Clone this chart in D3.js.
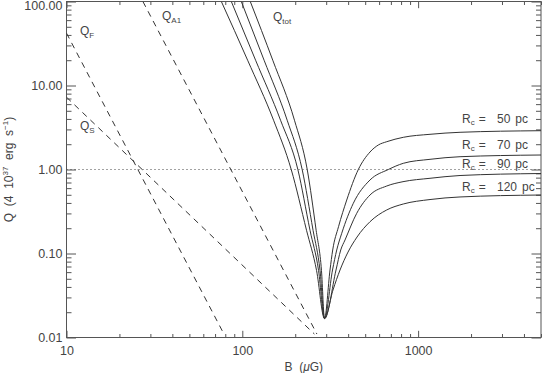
<!DOCTYPE html>
<meta charset="utf-8">
<style>
body { margin: 0; background: #fff; }
svg { font-family: "Liberation Sans", Arial, sans-serif; }
.curve { fill: none; stroke: #333; stroke-width: 1px; }
.dash { fill: none; stroke: #333; stroke-width: 1px; stroke-dasharray: 6,5; }
.dot { fill: none; stroke: #444; stroke-width: 1px; stroke-dasharray: 1,3; }
.tick line { stroke: #555; }
.tick text { fill: #444; font-size: 12.5px; }
.lbl { fill: #444; font-size: 12px; white-space: pre; }
</style>
<body>
<script src="https://d3js.org/d3.v7.min.js"></script>
<script>

// power-law components (B in microGauss, Q)
var qF  = [[10, 42], [78.6, 0.011]];
var qS  = [[10, 7.26], [257, 0.011]];
var qA1 = [[27.2, 100], [265.6, 0.011]];

// total Q for each core radius
var qTot50 = [[111, 100], [149, 20], [198, 3.86], [234, 1.0], [263, 0.189], [282, 0.063],
  [293.5, 0.0168], [315.4, 0.0636], [326.7, 0.110], [352.6, 0.2085], [392.6, 0.433],
  [457, 1.0], [532.5, 1.615], [593.6, 1.957], [663, 2.143], [823.7, 2.417],
  [1168.5, 2.624], [1731.5, 2.773], [5000, 2.897]];
var qTot70 = [[98.7, 100], [133, 20], [180, 3.86], [219, 1.0], [252.6, 0.189], [276.7, 0.063],
  [293.5, 0.0168], [325.9, 0.0636], [344.4, 0.110], [367.7, 0.174], [428, 0.396],
  [532.5, 0.750], [677, 1.0], [823.7, 1.185], [1168.5, 1.322], [1731.5, 1.420], [5000, 1.488]];
var qTot90 = [[86.6, 100], [119, 20], [165, 3.86], [207, 1.0], [242.7, 0.189], [271.4, 0.063],
  [293.5, 0.0168], [341.2, 0.0636], [362.9, 0.110], [383.9, 0.1448], [447.5, 0.301],
  [532.5, 0.497], [663, 0.636], [820.5, 0.716], [1168.5, 0.786], [1731.5, 0.848], [5000, 0.896]];
var qTot120 = [[76, 100], [107.2, 20], [150.6, 3.86], [189.8, 1.0], [231.9, 0.189], [264.4, 0.063],
  [293.5, 0.0168], [328, 0.0368], [359.6, 0.0636], [399.3, 0.104], [449.3, 0.157],
  [532.5, 0.239], [663, 0.330], [823.7, 0.3885], [1168.5, 0.439], [1731.5, 0.471], [5000, 0.497]];

var radii = ["50", "70", "90", "120"];

var xMajor = [10, 100, 1000];
var xMinor = [20, 30, 40, 50, 60, 70, 80, 90, 200, 300, 400, 500, 600, 700, 800, 900, 2000, 3000, 4000, 5000];
var yMajor = [0.01, 0.1, 1, 10, 100];
var yMinor = [];
[0.01, 0.1, 1, 10].forEach(function(d) {
  for (var k = 2; k <= 9; k++) yMinor.push(d * k);
});

var margin = {top: 1.5, right: 1, bottom: 35.5, left: 66.5},
    width = 542 - margin.left - margin.right,
    height = 373 - margin.top - margin.bottom;

var x = d3.scaleLog().domain([10, 5000]).range([0, width]);
var y = d3.scaleLog().domain([0.01, 100]).range([height, 0]);

var svg = d3.select("body").append("svg")
    .attr("width", 542)
    .attr("height", 373)
  .append("g")
    .attr("transform", "translate(" + margin.left + "," + margin.top + ")");

svg.append("clipPath").attr("id", "clip")
  .append("rect").attr("width", width).attr("height", height);

// axes: IDL style box with inward ticks
function addAxis(axisFn, vals, size, fmt, tr, pad) {
  var g = svg.append("g")
      .attr("transform", tr)
      .call(axisFn.tickValues(vals).tickSize(size).tickSizeOuter(0)
        .tickFormat(fmt).tickPadding(pad || 4));
  g.select(".domain").remove();
  return g;
}
var none = function() { return ""; };

var yAxisG = addAxis(d3.axisLeft(y), yMajor, -9.5, d3.format(".2f"), "translate(0,0)", 4);
// keep the top label inside the picture
yAxisG.selectAll(".tick text").filter(function(d) { return d === 100; }).attr("dy", "0.6em");
addAxis(d3.axisLeft(y), yMinor, -5, none, "translate(0,0)");
addAxis(d3.axisRight(y), yMajor, -9.5, none, "translate(" + width + ",0)");
addAxis(d3.axisRight(y), yMinor, -5, none, "translate(" + width + ",0)");
addAxis(d3.axisBottom(x), xMajor, -6.7, d3.format("d"), "translate(0," + height + ")", 9);
addAxis(d3.axisBottom(x), xMinor, -3.5, none, "translate(0," + height + ")");
addAxis(d3.axisTop(x), xMajor, -6.7, none, "translate(0,0)");
addAxis(d3.axisTop(x), xMinor, -3.5, none, "translate(0,0)");

svg.append("rect")
    .attr("width", width).attr("height", height)
    .attr("fill", "none").attr("stroke", "#555");

var line = d3.line()
    .x(function(d) { return x(d[0]); })
    .y(function(d) { return y(d[1]); })
    .curve(d3.curveMonotoneX);

var plot = svg.append("g").attr("clip-path", "url(#clip)");

// Q = 1 reference
plot.append("path").attr("class", "dot")
    .attr("d", line([[10, 1], [5000, 1]]));

[qF, qS, qA1].forEach(function(s) {
  plot.append("path").attr("class", "dash").attr("d", line(s));
});
[qTot50, qTot70, qTot90, qTot120].forEach(function(s) {
  plot.append("path").attr("class", "curve").attr("d", line(s));
});

// labels with subscripts
function qLabel(px, py, sub) {
  var t = svg.append("text").attr("class", "lbl")
      .attr("x", px).attr("y", py);
  t.append("tspan").text("Q");
  t.append("tspan").attr("font-size", "8px").attr("dy", 3).text(sub);
}
qLabel(13.5, 33.5, "F");
qLabel(13.5, 128.5, "S");
qLabel(95.5, 18, "A1");
qLabel(206.5, 19.5, "tot");

var rBase = [121.8, 147.8, 166.8, 189.2];
radii.forEach(function(r, i) {
  var t = svg.append("text").attr("class", "lbl").attr("y", rBase[i]);
  t.append("tspan").attr("x", 395.5).text("R");
  t.append("tspan").attr("font-size", "8px").attr("dy", 2).text("c");
  t.append("tspan").attr("dx", 4).attr("dy", -2).text("=");
  t.append("tspan").attr("x", 430.5).text(r);
  t.append("tspan").attr("dx", 5).text("pc");
});

// axis titles
var xt = svg.append("text").attr("class", "lbl")
    .attr("font-size", "12.5px")
    .attr("text-anchor", "middle")
    .attr("x", width / 2).attr("y", height + 33);
xt.append("tspan").text("B  (");
xt.append("tspan").attr("font-style", "italic").text("\u03bc");
xt.append("tspan").text("G)");

var yt = svg.append("text").attr("class", "lbl")
    .attr("font-size", "12.5px")
    .attr("text-anchor", "middle")
    .attr("transform", "translate(-53.5," + (height / 2) + ") rotate(-90)");
yt.append("tspan").text("Q  (4  10");
yt.append("tspan").attr("font-size", "8px").attr("dy", -5).text("37");
yt.append("tspan").attr("dy", 5).text("  erg  s");
yt.append("tspan").attr("font-size", "8px").attr("dy", -5).text("\u22121");
yt.append("tspan").attr("dy", 5).text(")");

</script>
</body>
